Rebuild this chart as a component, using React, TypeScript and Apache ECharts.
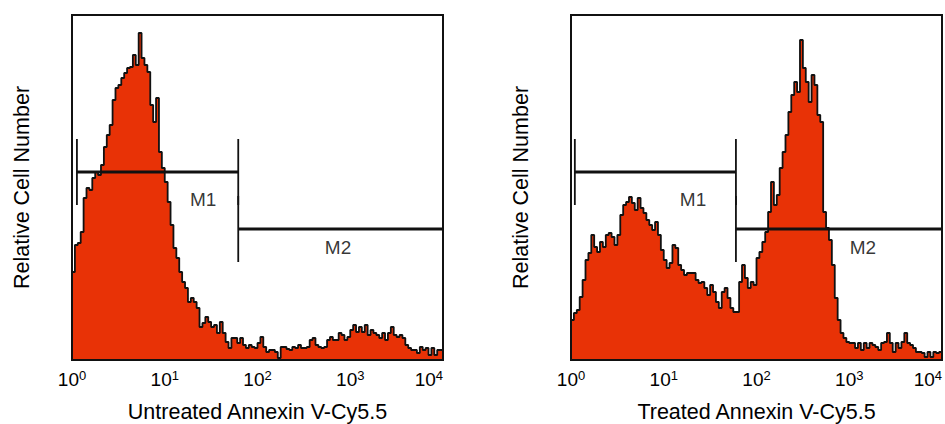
import React, { useEffect, useRef } from "react";
import * as echarts from "echarts";

// ---- data ----
const decadeExponents = [0, 1, 2, 3, 4];
const channelsPerDecade = 32;
const yTitle = "Relative Cell Number";
const panelTitles = ["Untreated Annexin V-Cy5.5", "Treated Annexin V-Cy5.5"];

const untreatedCounts = [
  88, 115, 117, 128, 162, 172, 170, 182, 188, 185, 195, 213, 225, 235, 260, 272,
  275, 282, 287, 292, 293, 305, 295, 327, 302, 295, 288, 255, 238, 262, 208, 192,
  178, 158, 135, 112, 102, 88, 78, 72, 58, 62, 58, 52, 33, 37, 43, 38,
  33, 35, 27, 38, 27, 18, 12, 22, 22, 17, 22, 15, 12, 15, 13, 12,
  17, 23, 13, 8, 10, 10, 8, 2, 13, 13, 11, 10, 13, 12, 15, 12,
  12, 13, 20, 22, 15, 13, 12, 13, 20, 23, 20, 20, 27, 25, 20, 23,
  30, 35, 28, 33, 28, 35, 25, 30, 27, 25, 22, 27, 20, 27, 33, 25,
  23, 25, 22, 15, 12, 10, 10, 7, 13, 10, 12, 5, 12, 5, 10, 10,
];

const treatedCounts = [
  40, 47, 50, 63, 80, 100, 107, 125, 113, 108, 118, 113, 125, 127, 123, 115,
  125, 145, 155, 158, 163, 157, 150, 162, 152, 147, 140, 135, 130, 138, 125, 110,
  100, 92, 97, 115, 112, 95, 90, 85, 87, 87, 87, 80, 77, 78, 72, 65,
  75, 68, 58, 52, 68, 72, 62, 52, 48, 48, 78, 95, 82, 72, 78, 75,
  102, 108, 118, 128, 148, 178, 155, 165, 192, 208, 225, 248, 265, 278, 268, 320,
  292, 278, 258, 285, 275, 245, 238, 148, 132, 120, 95, 62, 40, 27, 22, 18,
  17, 17, 12, 17, 10, 17, 12, 17, 15, 13, 10, 17, 18, 27, 17, 8,
  17, 12, 18, 27, 17, 15, 12, 8, 8, 7, 3, 8, 3, 8, 7, 8,
];

// marker gates: intensity range and level (relative cell number)
const untreatedGates = [
  { name: "M1", from: 1.13, to: 62, level: 188, labelAt: 26, labelLevel: 161 },
  { name: "M2", from: 62, to: 10000, level: 131, labelAt: 738, labelLevel: 113 },
];
const treatedGates = [
  { name: "M1", from: 1.1, to: 60, level: 188, labelAt: 20.7, labelLevel: 161 },
  { name: "M2", from: 60, to: 10000, level: 131, labelAt: 1406, labelLevel: 113 },
];
const gateTickHalf = 33;
const yMax = 345;

const FONT = "'Liberation Sans', Arial, Helvetica, sans-serif";
const TEXT = "#000";
const FILL = "#E83206";

function histData(counts: number[]) {
  const pts: number[][] = counts.map((c, i) => [i / channelsPerDecade, c]);
  pts.push([counts.length / channelsPerDecade, counts[counts.length - 1]]);
  return pts;
}

function gateSeries(gates: typeof untreatedGates, idx: number) {
  const out: any[] = [];
  const seg = (a: number[], b: number[], w: number) =>
    out.push({
      type: "line",
      xAxisIndex: idx,
      yAxisIndex: idx,
      data: [a, b],
      symbol: "none",
      silent: true,
      z: 4,
      lineStyle: { color: "#111", width: w },
    });
  gates.forEach((g) => {
    const x0 = Math.log10(g.from);
    const x1 = Math.log10(g.to);
    seg([x0, g.level], [x1, g.level], 3);
    seg([x0, g.level - gateTickHalf], [x0, g.level + gateTickHalf], 1.8);
    seg([x1, g.level - gateTickHalf], [x1, g.level + gateTickHalf], 1.8);
  });
  out.push({
    type: "scatter",
    xAxisIndex: idx,
    yAxisIndex: idx,
    symbolSize: 0,
    silent: true,
    z: 5,
    data: gates.map((g) => ({ value: [Math.log10(g.labelAt), g.labelLevel], name: g.name })),
    label: {
      show: true,
      position: "inside",
      formatter: (p: any) => p.name,
      fontSize: 19,
      color: TEXT,
      fontFamily: FONT,
    },
  });
  return out;
}

export default function App() {
  const ref = useRef<HTMLDivElement>(null);
  useEffect(() => {
    if (!ref.current) return;
    const chart = echarts.init(ref.current, undefined, { renderer: "svg" });
    const grids = [
      { left: 72, top: 15, width: 371, height: 345 },
      { left: 571, top: 15, width: 371, height: 345 },
    ].map((g) => ({
      ...g,
      show: true,
      z: 10,
      containLabel: false,
      outerBoundsMode: "none",
      backgroundColor: "transparent",
      borderColor: "#111",
      borderWidth: 2,
    }));
    const xAxes = panelTitles.map((t, i) => ({
      type: "value",
      gridIndex: i,
      min: 0,
      max: decadeExponents[decadeExponents.length - 1],
      interval: 1,
      axisLine: { show: false },
      axisTick: { show: false },
      splitLine: { show: false },
      axisLabel: {
        margin: 9,
        alignMaxLabel: "right",
        formatter: (v: number) => `{b|10}{s|${v}}`,
        rich: {
          b: { fontSize: 19, fontFamily: FONT, color: TEXT, lineHeight: 20 },
          s: { fontSize: 13, fontFamily: FONT, color: TEXT, verticalAlign: "top", lineHeight: 12 },
        },
      },
      name: t,
      nameLocation: "middle",
      nameGap: 41,
      nameTextStyle: { fontSize: 21.5, fontFamily: FONT, color: TEXT },
    }));
    const yAxes = panelTitles.map((_, i) => ({
      type: "value",
      gridIndex: i,
      min: 0,
      max: yMax,
      axisLine: { show: false },
      axisTick: { show: false },
      splitLine: { show: false },
      axisLabel: { show: false },
      name: yTitle,
      nameLocation: "middle",
      nameRotate: 90,
      nameGap: 39,
      nameTextStyle: { fontSize: 21.5, fontFamily: FONT, color: TEXT },
    }));
    const histSeries = [untreatedCounts, treatedCounts].map((c, i) => ({
      type: "line",
      xAxisIndex: i,
      yAxisIndex: i,
      step: "end",
      symbol: "none",
      silent: true,
      data: histData(c),
      lineStyle: { color: "#111", width: 1.8 },
      areaStyle: { color: FILL, opacity: 1 },
      z: 2,
    }));
    chart.setOption({
      animation: false,
      backgroundColor: "#fff",
      grid: grids,
      xAxis: xAxes,
      yAxis: yAxes,
      series: [...histSeries, ...gateSeries(untreatedGates, 0), ...gateSeries(treatedGates, 1)],
    });
    return () => chart.dispose();
  }, []);
  return (
    <div
      ref={ref}
      style={{ position: "absolute", left: 0, top: 0, width: 945, height: 424 }}
    />
  );
}
